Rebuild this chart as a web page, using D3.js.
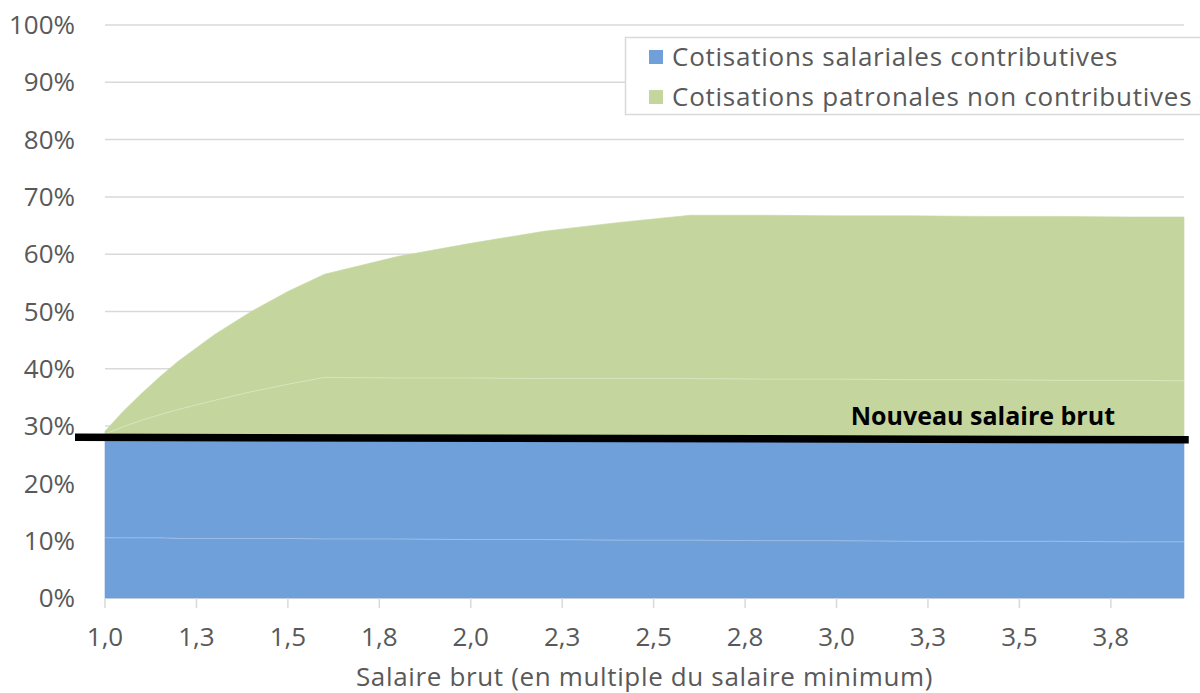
<!DOCTYPE html>
<html>
<head>
<meta charset="utf-8">
<script src="https://cdn.jsdelivr.net/npm/d3@7"></script>
<style>
  html, body { margin: 0; padding: 0; background: #fff; }
  svg { display: block; }
  text { font-family: "Open Sans", "Noto Sans", sans-serif; }
</style>
</head>
<body>
<svg id="chart" width="1200" height="693"></svg>
<script>
// Gross wage as a multiple of the minimum wage
const salaire = [1.0, 1.05, 1.1, 1.15, 1.2, 1.3, 1.4, 1.5, 1.6, 1.8, 2.0, 2.2, 2.4, 2.6, 2.8, 3.0, 3.2, 3.4, 3.6, 3.8, 3.95];

// Contribution layers, in % of the gross wage (stacked bottom to top)
const salarialesA  = [10.5, 10.5, 10.5, 10.5, 10.4, 10.4, 10.4, 10.4, 10.3, 10.3, 10.2, 10.2, 10.1, 10.1, 10.0, 10.0, 9.9, 9.9, 9.9, 9.8, 9.8];
const salarialesB  = [17.6, 17.6, 17.6, 17.6, 17.7, 17.6, 17.6, 17.6, 17.7, 17.6, 17.7, 17.7, 17.7, 17.7, 17.7, 17.7, 17.7, 17.7, 17.6, 17.7, 17.6];
const patronalesA  = [0.5, 1.8, 2.9, 3.9, 4.8, 6.5, 8.0, 9.3, 10.5, 10.5, 10.5, 10.4, 10.5, 10.5, 10.5, 10.5, 10.5, 10.5, 10.5, 10.5, 10.5];
const patronalesB  = [0.5, 2.7, 4.7, 6.6, 8.4, 11.5, 14.0, 16.2, 18.0, 21.2, 23.5, 25.7, 27.2, 28.5, 28.6, 28.5, 28.6, 28.5, 28.6, 28.5, 28.6];

// "Nouveau salaire brut" reference line: endpoints (multiple, %)
const nouveauX = [0.918, 3.963];
const nouveauY = [28.06, 27.6];

// Axis ticks
const xTickValues = [1.0, 1.25, 1.5, 1.75, 2.0, 2.25, 2.5, 2.75, 3.0, 3.25, 3.5, 3.75];
const xTickLabels = ["1,0", "1,3", "1,5", "1,8", "2,0", "2,3", "2,5", "2,8", "3,0", "3,3", "3,5", "3,8"];
const yTickValues = [0, 10, 20, 30, 40, 50, 60, 70, 80, 90, 100];

const legendLabels = ["Cotisations salariales contributives", "Cotisations patronales non contributives"];

const BLUE = "#6fa0da";
const GREEN = "#c4d69d";
const TEXT = "#595959";

const svg = d3.select("#chart");
const margin = { left: 105, right: 16, top: 25, bottom: 95 };
const W = 1200, H = 693;

const x = d3.scaleLinear().domain([1.0, 3.95]).range([margin.left, W - margin.right]);
const y = d3.scaleLinear().domain([0, 100]).range([H - margin.bottom, margin.top]);

// Gridlines
svg.append("g")
  .selectAll("line")
  .data(yTickValues)
  .join("line")
  .attr("x1", x(1.0)).attr("x2", x(3.95))
  .attr("y1", d => y(d)).attr("y2", d => y(d))
  .attr("stroke", "#d9d9d9").attr("stroke-width", 1.5);

// Stacked areas
const rows = salaire.map((s, i) => ({
  s, a: salarialesA[i], b: salarialesB[i], c: patronalesA[i], d: patronalesB[i]
}));
const keys = ["a", "b", "c", "d"];
const colors = { a: BLUE, b: BLUE, c: GREEN, d: GREEN };
const stacked = d3.stack().keys(keys)(rows);

const area = d3.area()
  .x(d => x(d.data.s))
  .y0(d => y(d[0]))
  .y1(d => y(d[1]));

svg.append("g")
  .selectAll("path")
  .data(stacked)
  .join("path")
  .attr("d", area)
  .attr("fill", d => colors[d.key])
  .attr("stroke", d => colors[d.key])
  .attr("stroke-width", 0.6);

// Faint seams between layers of the same colour
const seam = d3.line().x(d => x(d.data.s)).y(d => y(d[1]));
svg.append("g")
  .selectAll("path")
  .data([stacked[0], stacked[2]])
  .join("path")
  .attr("d", seam)
  .attr("fill", "none")
  .attr("stroke", "rgba(255,255,255,0.3)")
  .attr("stroke-width", 1);

// X axis ticks and labels
const xAxis = svg.append("g").attr("transform", `translate(0,${y(0)})`);
xAxis.selectAll("line")
  .data(xTickValues)
  .join("line")
  .attr("x1", d => x(d)).attr("x2", d => x(d))
  .attr("y1", 0).attr("y2", 10)
  .attr("stroke", "#d9d9d9").attr("stroke-width", 1.5);
xAxis.selectAll("text")
  .data(xTickValues)
  .join("text")
  .attr("x", d => x(d))
  .attr("y", 48)
  .attr("text-anchor", "middle")
  .attr("font-size", 26)
  .attr("fill", TEXT)
  .text((d, i) => xTickLabels[i]);

svg.append("text")
  .attr("x", (x(1.0) + x(3.95)) / 2)
  .attr("y", 686)
  .attr("text-anchor", "middle")
  .attr("font-size", 26)
  .attr("letter-spacing", 0.65)
  .attr("fill", TEXT)
  .text("Salaire brut (en multiple du salaire minimum)");

// Y axis labels
svg.append("g")
  .selectAll("text")
  .data(yTickValues)
  .join("text")
  .attr("x", 75)
  .attr("y", d => y(d))
  .attr("dy", "0.35em")
  .attr("text-anchor", "end")
  .attr("font-size", 26)
  .attr("fill", TEXT)
  .text(d => d + "%");

// Reference line and its label
svg.append("line")
  .attr("x1", x(nouveauX[0])).attr("y1", y(nouveauY[0]))
  .attr("x2", x(nouveauX[1])).attr("y2", y(nouveauY[1]))
  .attr("stroke", "#000").attr("stroke-width", 7.5);

svg.append("text")
  .attr("x", 1115)
  .attr("y", 425)
  .attr("text-anchor", "end")
  .attr("font-size", 25)
  .attr("font-weight", "bold")
  .attr("fill", "#000")
  .text("Nouveau salaire brut");

// Legend
const legend = svg.append("g");
legend.append("rect")
  .attr("x", 625.5).attr("y", 37.5)
  .attr("width", 600).attr("height", 77)
  .attr("fill", "#fff")
  .attr("stroke", "#d9d9d9").attr("stroke-width", 1.5);
const items = legend.selectAll("g.item")
  .data(legendLabels)
  .join("g")
  .attr("class", "item")
  .attr("transform", (d, i) => `translate(649,${57 + i * 40})`);
items.append("rect")
  .attr("x", 0).attr("y", -7)
  .attr("width", 14).attr("height", 14)
  .attr("fill", (d, i) => i === 0 ? BLUE : GREEN);
items.append("text")
  .attr("x", 23)
  .attr("y", 0)
  .attr("dy", "0.35em")
  .attr("font-size", 26)
  .attr("letter-spacing", 0.75)
  .attr("fill", TEXT)
  .text(d => d);
</script>
</body>
</html>
